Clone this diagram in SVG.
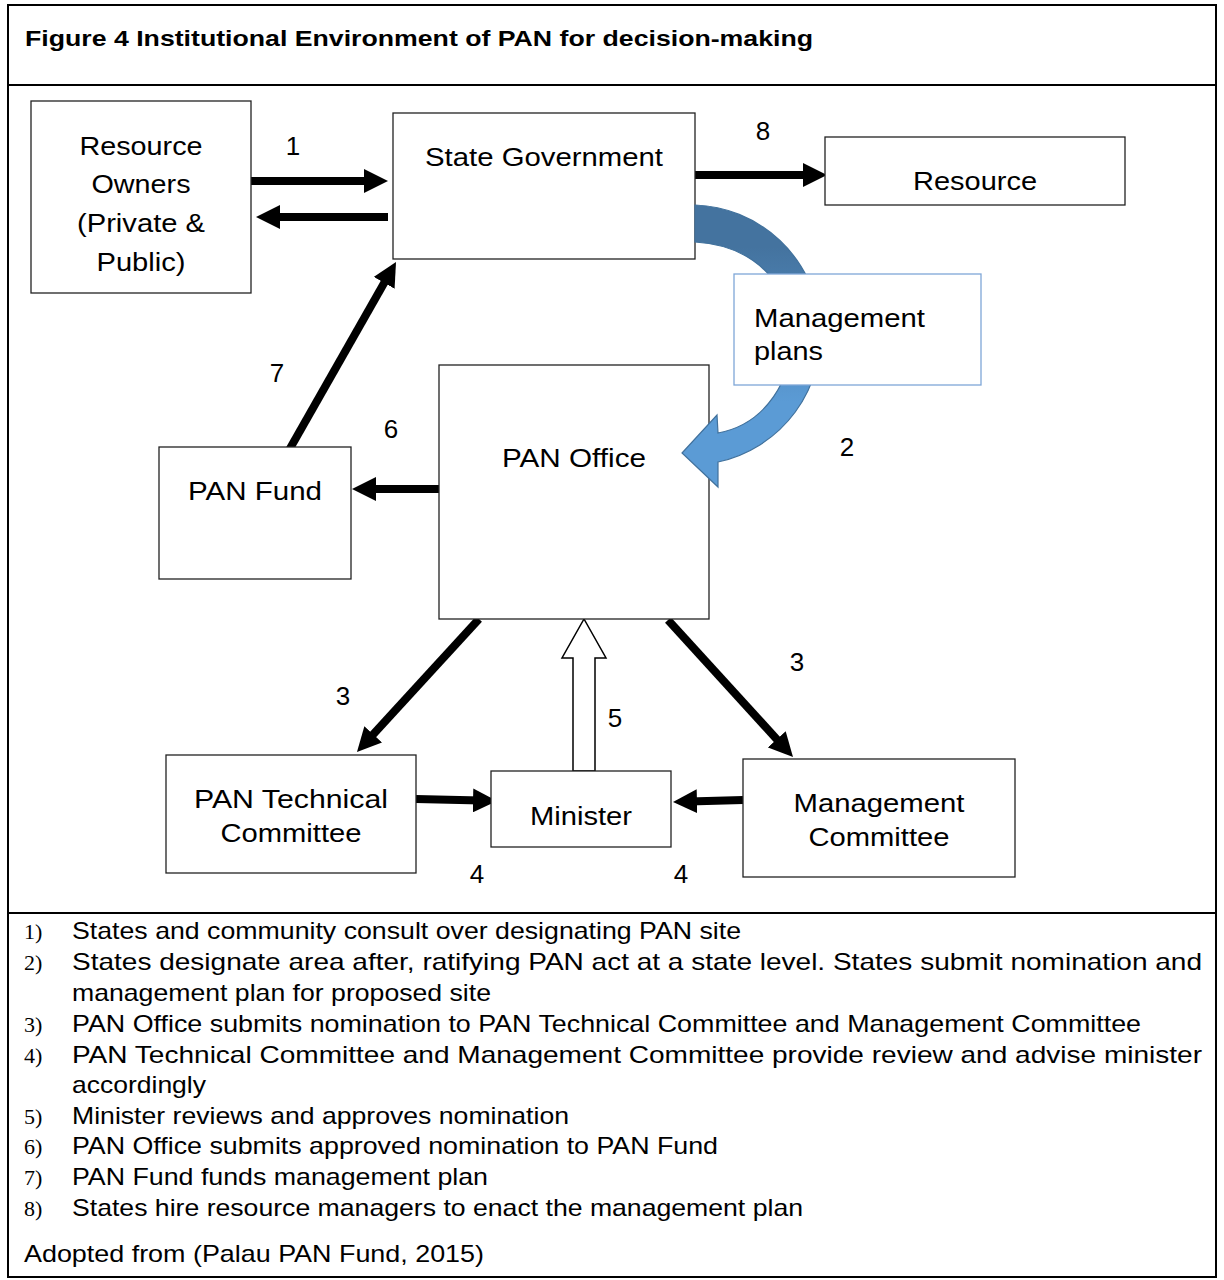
<svg xmlns="http://www.w3.org/2000/svg" width="1224" height="1280" viewBox="0 0 1224 1280">
<style>
.frame{fill:none;stroke:#000;stroke-width:2}
.box{fill:#fff;stroke:#222;stroke-width:1.3}
.lbl{font-family:"Liberation Sans",Arial,sans-serif;font-size:26px;fill:#000}
.num{font-family:"Liberation Sans",Arial,sans-serif;font-size:26px;fill:#000;text-anchor:middle}
.leg{font-family:"Liberation Sans",Arial,sans-serif;font-size:24px;fill:#000}
.legn{font-family:"Liberation Serif","Times New Roman",serif;font-size:22px;fill:#000}
.arr{stroke:#000;stroke-width:8;fill:none;marker-end:url(#ah)}
.c{text-anchor:middle}
</style>
<defs>
<marker id="ah" viewBox="0 0 10 10" markerWidth="3" markerHeight="3" refX="3.33" refY="5" orient="auto" markerUnits="strokeWidth">
<path d="M0,0 L10,5 L0,10 z" fill="#000"/>
</marker>
<linearGradient id="blue" gradientUnits="userSpaceOnUse" x1="0" y1="205" x2="0" y2="487">
<stop offset="0.15" stop-color="#44739f"/>
<stop offset="0.7" stop-color="#5b9bd5"/>
</linearGradient>
</defs>

<g id="frame">
<rect class="frame" x="8" y="5" width="1208" height="1272"/>
<line class="frame" x1="8" y1="85" x2="1216" y2="85"/>
<line class="frame" x1="8" y1="913" x2="1216" y2="913"/>
<text x="25" y="46" font-family="'Liberation Sans',Arial,sans-serif" font-size="22" font-weight="bold" textLength="788" lengthAdjust="spacingAndGlyphs">Figure 4 Institutional Environment of PAN for decision-making</text>
</g>

<g id="connectors">
<line class="arr" x1="251" y1="181" x2="372" y2="181"/>
<line class="arr" x1="388" y1="217" x2="272" y2="217"/>
<line class="arr" x1="695" y1="175" x2="811" y2="175"/>
<line class="arr" x1="288" y1="452" x2="388.1" y2="275.9"/>
<line class="arr" x1="439" y1="489" x2="368" y2="489"/>
<line class="arr" x1="479" y1="619" x2="367.8" y2="740.2"/>
<line class="arr" x1="668" y1="620" x2="782.2" y2="745.2"/>
<line class="arr" x1="416" y1="799" x2="481" y2="800.6"/>
<line class="arr" x1="743" y1="800" x2="689" y2="801.5"/>
<polygon points="573,771 573,658 562,658 584,619 606,658 595,658 595,771" fill="#fff" stroke="#000" stroke-width="1.5"/>
<text class="num" x="293" y="155">1</text>
<text class="num" x="763" y="140">8</text>
<text class="num" x="277" y="382">7</text>
<text class="num" x="391" y="438">6</text>
<text class="num" x="847" y="456">2</text>
<text class="num" x="343" y="705">3</text>
<text class="num" x="797" y="671">3</text>
<text class="num" x="615" y="727">5</text>
<text class="num" x="477" y="883">4</text>
<text class="num" x="681" y="883">4</text>
</g>

<g id="resource-owners">
<rect class="box" x="31" y="101" width="220" height="192"/>
<text class="lbl c" x="141" y="155" textLength="123" lengthAdjust="spacingAndGlyphs">Resource</text>
<text class="lbl c" x="141" y="193" textLength="99" lengthAdjust="spacingAndGlyphs">Owners</text>
<text class="lbl c" x="141" y="232" textLength="128" lengthAdjust="spacingAndGlyphs">(Private &amp;</text>
<text class="lbl c" x="141" y="271" textLength="89" lengthAdjust="spacingAndGlyphs">Public)</text>
</g>

<g id="state-government">
<rect class="box" x="393" y="113" width="302" height="146"/>
<text class="lbl c" x="544" y="166" textLength="238" lengthAdjust="spacingAndGlyphs">State Government</text>
</g>

<g id="resource">
<rect class="box" x="825" y="137" width="300" height="68"/>
<text class="lbl c" x="975" y="190" textLength="124" lengthAdjust="spacingAndGlyphs">Resource</text>
</g>

<g id="pan-office">
<rect class="box" x="439" y="365" width="270" height="254"/>
<text class="lbl c" x="574" y="467" textLength="144" lengthAdjust="spacingAndGlyphs">PAN Office</text>
</g>

<g id="curved-arrow-2">
<path d="M695,205 A130,130 0 0 1 718,462 L718,487 L682,453 L717,415 L718,433 C815,415 825,250 695,242 Z" fill="url(#blue)" stroke="#41719c" stroke-width="1.2"/>
</g>

<g id="management-plans">
<rect x="734" y="274" width="247" height="111" fill="#fff" stroke="#7fa7d7" stroke-width="1.3"/>
<text class="lbl" x="754" y="327" textLength="171" lengthAdjust="spacingAndGlyphs">Management</text>
<text class="lbl" x="754" y="360" textLength="69" lengthAdjust="spacingAndGlyphs">plans</text>
</g>

<g id="pan-fund">
<rect class="box" x="159" y="447" width="192" height="132"/>
<text class="lbl c" x="255" y="500" textLength="134" lengthAdjust="spacingAndGlyphs">PAN Fund</text>
</g>

<g id="pan-technical-committee">
<rect class="box" x="166" y="755" width="250" height="118"/>
<text class="lbl c" x="291" y="808" textLength="194" lengthAdjust="spacingAndGlyphs">PAN Technical</text>
<text class="lbl c" x="291" y="842" textLength="141" lengthAdjust="spacingAndGlyphs">Committee</text>
</g>

<g id="minister">
<rect class="box" x="491" y="771" width="180" height="76"/>
<text class="lbl c" x="581" y="825" textLength="102" lengthAdjust="spacingAndGlyphs">Minister</text>
</g>

<g id="management-committee">
<rect class="box" x="743" y="759" width="272" height="118"/>
<text class="lbl c" x="879" y="812" textLength="171" lengthAdjust="spacingAndGlyphs">Management</text>
<text class="lbl c" x="879" y="846" textLength="141" lengthAdjust="spacingAndGlyphs">Committee</text>
</g>

<g id="legend">
<text class="legn" x="24" y="939">1)</text>
<text class="legn" x="24" y="970">2)</text>
<text class="legn" x="24" y="1032">3)</text>
<text class="legn" x="24" y="1063">4)</text>
<text class="legn" x="24" y="1124">5)</text>
<text class="legn" x="24" y="1154">6)</text>
<text class="legn" x="24" y="1185">7)</text>
<text class="legn" x="24" y="1216">8)</text>
<text class="leg" x="72" y="939" textLength="669" lengthAdjust="spacingAndGlyphs">States and community consult over designating PAN site</text>
<text class="leg" x="72" y="970" textLength="1130" lengthAdjust="spacingAndGlyphs">States designate area after, ratifying PAN act at a state level. States submit nomination and</text>
<text class="leg" x="72" y="1001" textLength="419" lengthAdjust="spacingAndGlyphs">management plan for proposed site</text>
<text class="leg" x="72" y="1032" textLength="1069" lengthAdjust="spacingAndGlyphs">PAN Office submits nomination to PAN Technical Committee and Management Committee</text>
<text class="leg" x="72" y="1063" textLength="1130" lengthAdjust="spacingAndGlyphs">PAN Technical Committee and Management Committee provide review and advise minister</text>
<text class="leg" x="72" y="1093" textLength="134" lengthAdjust="spacingAndGlyphs">accordingly</text>
<text class="leg" x="72" y="1124" textLength="497" lengthAdjust="spacingAndGlyphs">Minister reviews and approves nomination</text>
<text class="leg" x="72" y="1154" textLength="646" lengthAdjust="spacingAndGlyphs">PAN Office submits approved nomination to PAN Fund</text>
<text class="leg" x="72" y="1185" textLength="416" lengthAdjust="spacingAndGlyphs">PAN Fund funds management plan</text>
<text class="leg" x="72" y="1216" textLength="731" lengthAdjust="spacingAndGlyphs">States hire resource managers to enact the management plan</text>
<text class="leg" x="24" y="1262" textLength="460" lengthAdjust="spacingAndGlyphs">Adopted from (Palau PAN Fund, 2015)</text>
</g>
</svg>
